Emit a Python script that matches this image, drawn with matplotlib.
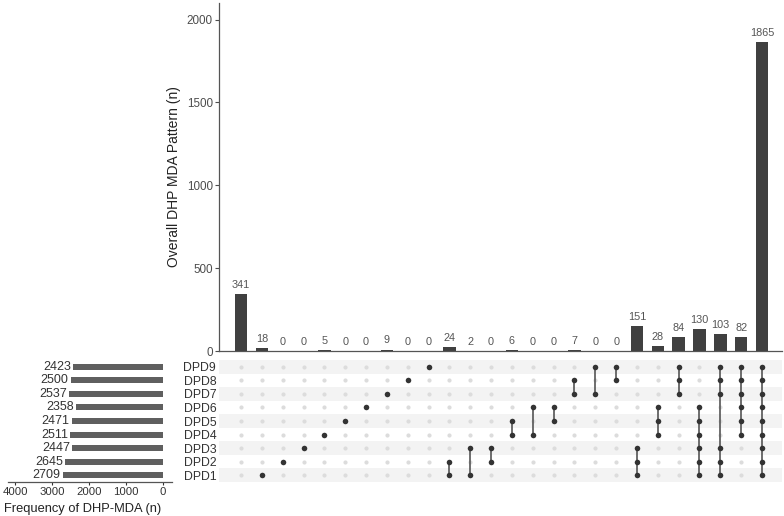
import matplotlib
matplotlib.use("Agg")
import matplotlib.pyplot as plt
import numpy as np

plt.rcParams['font.family'] = ['Liberation Sans', 'DejaVu Sans']

# set sizes (left bars), DPD1 at the bottom
dpd_names = ['DPD1', 'DPD2', 'DPD3', 'DPD4', 'DPD5', 'DPD6', 'DPD7', 'DPD8', 'DPD9']
dpd_totals = [2709, 2645, 2447, 2511, 2471, 2358, 2537, 2500, 2423]

# intersection sizes (top bars) and which sets make each pattern
pattern_counts = [341, 18, 0, 0, 5, 0, 0, 9, 0, 0, 24, 2, 0, 6, 0, 0, 7, 0, 0,
                  151, 28, 84, 130, 103, 82, 1865]
pattern_sets = [[], [1], [2], [3], [4], [5], [6], [7], [8], [9],
                [1, 2], [1, 3], [2, 3], [4, 5], [4, 6], [5, 6], [7, 8], [7, 9], [8, 9],
                [1, 2, 3], [4, 5, 6], [7, 8, 9], [1, 2, 3, 4, 5, 6],
                [1, 2, 3, 7, 8, 9], [4, 5, 6, 7, 8, 9], [1, 2, 3, 4, 5, 6, 7, 8, 9]]

W, H = 784, 516
fig = plt.figure(figsize=(W / 100, H / 100), dpi=100)


def box(x0, y0, x1, y1):
    # pixel box -> figure fraction
    return [x0 / W, 1 - y1 / H, (x1 - x0) / W, (y1 - y0) / H]


ax_bar = fig.add_axes(box(219, 3, 782, 351))
ax_mat = fig.add_axes(box(219, 360, 782, 482))
ax_set = fig.add_axes(box(8, 360, 172, 482))

n_cols = len(pattern_counts)
n_rows = len(dpd_names)
cols = np.arange(n_cols)
rows = np.arange(n_rows)
xlim = (-1.06, 25.96)

# --- top bars
ax_bar.bar(cols, pattern_counts, width=0.6, color='#404040')
for x, v in zip(cols, pattern_counts):
    ax_bar.annotate(str(v), (x, v), xytext=(0, 3), textcoords='offset points',
                    ha='center', va='bottom', fontsize=7.8, color='#555555')
ax_bar.set_xlim(*xlim)
ax_bar.set_ylim(0, 2100)
ax_bar.set_yticks([0, 500, 1000, 1500, 2000])
ax_bar.set_xticks([])
ax_bar.tick_params(axis='y', labelsize=8.4, colors='#4d4d4d', length=3, width=0.8, pad=1.5)
for s in ['top', 'right']:
    ax_bar.spines[s].set_visible(False)
for s in ['left', 'bottom']:
    ax_bar.spines[s].set_color('#555555')
    ax_bar.spines[s].set_linewidth(0.9)
ax_bar.set_ylabel('Overall DHP MDA Pattern (n)', fontsize=10, color='#222222')
ax_bar.yaxis.set_label_coords(-0.068, 0.5)

# --- matrix
for r in rows:
    if r % 2 == 0:
        ax_mat.axhspan(r - 0.5, r + 0.5, color='#f3f3f3', lw=0, zorder=0)
gx, gy = np.meshgrid(cols, rows)
ax_mat.scatter(gx.ravel(), gy.ravel(), s=9, color='#dcdcdc', zorder=1, linewidths=0)
for x, members in zip(cols, pattern_sets):
    if not members:
        continue
    ys = [m - 1 for m in members]
    if len(ys) > 1:
        ax_mat.plot([x, x], [min(ys), max(ys)], color='#555555', lw=1.2, zorder=2)
    ax_mat.scatter([x] * len(ys), ys, s=16, color='#333333', zorder=3, linewidths=0)
ax_mat.set_xlim(*xlim)
ax_mat.set_ylim(-0.5, n_rows - 0.5)
ax_mat.set_xticks([])
ax_mat.set_yticks(rows)
ax_mat.set_yticklabels(dpd_names)
ax_mat.tick_params(axis='y', length=0, labelsize=8.8, colors='#333333', pad=2)
for s in ax_mat.spines.values():
    s.set_visible(False)

# --- left set-size bars
ax_set.barh(rows, dpd_totals, height=0.45, color='#5f5f5f')
for y, v in zip(rows, dpd_totals):
    ax_set.text(v + 60, y, str(v), ha='right', va='center', fontsize=9, color='#333333')
ax_set.set_xlim(4190, -243)
ax_set.set_ylim(-0.5, n_rows - 0.5)
ax_set.set_yticks([])
ax_set.set_xticks([4000, 3000, 2000, 1000, 0])
ax_set.tick_params(axis='x', labelsize=8.2, colors='#333333', length=2, width=0.8, pad=1.5)
for s in ['top', 'right', 'left']:
    ax_set.spines[s].set_visible(False)
ax_set.spines['bottom'].set_color('#555555')
ax_set.spines['bottom'].set_linewidth(0.9)
ax_set.set_xlabel('Frequency of DHP-MDA (n)', fontsize=9.3, color='#222222', labelpad=1)
ax_set.xaxis.set_label_coords(0.455, -0.17)

fig.savefig('out.png', dpi=100)
